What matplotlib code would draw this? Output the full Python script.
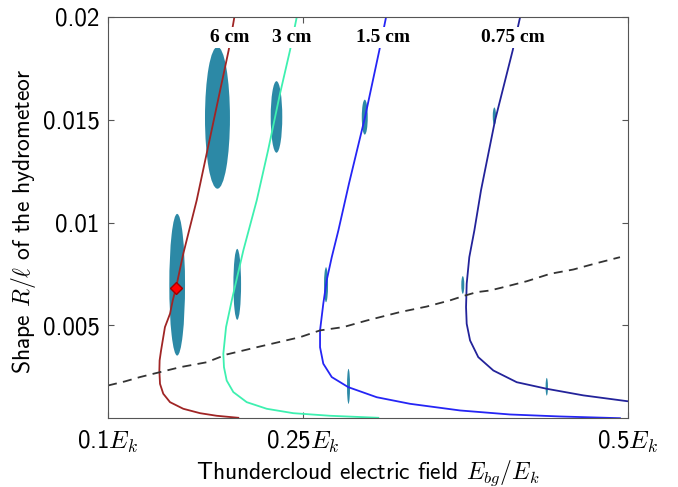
import matplotlib
matplotlib.use("Agg")
import matplotlib.pyplot as plt
from matplotlib.patches import Ellipse

plt.rcParams['mathtext.fontset'] = 'cm'

# threshold curves, one per hydrometeor length (x = E_bg/E_k, y = R/l)
x_6cm = [0.2002, 0.1836, 0.1708, 0.1579, 0.1477, 0.1425, 0.1400, 0.1395, 0.1397,
         0.1408, 0.1438, 0.1477, 0.1498, 0.1523, 0.1579, 0.1682, 0.1792, 0.1928,
         0.1972, 0.1985]
y_6cm = [0.00051, 0.000608, 0.000734, 0.000948, 0.00127, 0.00168, 0.00216, 0.00281,
         0.0033, 0.00378, 0.00492, 0.00557, 0.00622, 0.00683, 0.00849, 0.01108,
         0.01434, 0.01838, 0.0200, 0.0206]

x_3cm = [0.3079, 0.2708, 0.2425, 0.2221, 0.2067, 0.1964, 0.1913, 0.1892, 0.1887,
         0.1908, 0.1952, 0.2041, 0.2144, 0.2231, 0.2323, 0.2400, 0.2452, 0.2465]
y_3cm = [0.00051, 0.000608, 0.000734, 0.000948, 0.00127, 0.00176, 0.00232, 0.00297,
         0.00362, 0.00492, 0.00622, 0.00865, 0.01108, 0.01351, 0.01627, 0.01838,
         0.0200, 0.0206]

x_15cm = [0.4938, 0.4477, 0.4092, 0.3708, 0.3323, 0.3067, 0.2848, 0.2721, 0.2656,
          0.2631, 0.2631, 0.2656, 0.2682, 0.2721, 0.2772, 0.2854, 0.2977, 0.3087,
          0.3138, 0.3154]
y_15cm = [0.00049, 0.000574, 0.000671, 0.000866, 0.00119, 0.00151, 0.0020, 0.00249,
          0.00314, 0.00394, 0.00476, 0.00606, 0.00719, 0.00832, 0.00962, 0.01191,
          0.01513, 0.01838, 0.01997, 0.0206]

x_075cm = [0.5092, 0.4990, 0.4656, 0.4375, 0.4144, 0.3964, 0.3848, 0.3785, 0.3759,
           0.3754, 0.3759, 0.3779, 0.3818, 0.3869, 0.3977, 0.4113, 0.4169, 0.4185]
y_075cm = [0.00125, 0.00132, 0.0016, 0.00192, 0.00224, 0.00281, 0.00346, 0.00427,
           0.00508, 0.00589, 0.00703, 0.00832, 0.00962, 0.01157, 0.01497, 0.01838,
           0.01997, 0.0206]

# dashed boundary
x_dash = [0.1, 0.1131, 0.1246, 0.14, 0.1554, 0.1759, 0.1913, 0.2144, 0.2477, 0.2631,
          0.281, 0.299, 0.3246, 0.3452, 0.3631, 0.3733, 0.3836, 0.3938, 0.4067, 0.4221,
          0.44, 0.4579, 0.4759, 0.4938]
y_dash = [0.00208, 0.00228, 0.00249, 0.00273, 0.00297, 0.00321, 0.00359, 0.00394,
          0.00443, 0.00476, 0.00492, 0.00524, 0.00565, 0.00592, 0.00622, 0.00643,
          0.00662, 0.0067, 0.0069, 0.00715, 0.00751, 0.00772, 0.00803, 0.00832]

# uncertainty ellipses
ell_x = [0.1842, 0.1532, 0.2296, 0.1994, 0.2975, 0.2677, 0.2850, 0.3972, 0.3729, 0.4375]
ell_y = [0.0151, 0.00698, 0.01514, 0.0070, 0.01513, 0.00698, 0.00204, 0.01517, 0.00697, 0.00202]
ell_w = [0.0192, 0.0121, 0.0089, 0.0059, 0.0046, 0.0031, 0.0023, 0.0025, 0.0023, 0.0018]
ell_h = [0.0069, 0.00689, 0.00348, 0.00345, 0.0017, 0.0017, 0.0017, 0.00086, 0.00086, 0.00086]

# red marker
pt_x, pt_y = 0.1523, 0.00683

labels = ['6 cm', '3 cm', '1.5 cm', '0.75 cm']
label_x = [0.1936, 0.2413, 0.3115, 0.4115]
label_y = 0.0190

fig = plt.figure(figsize=(6.78, 4.87), dpi=100)
ax = fig.add_axes([0.1593, 0.1417, 0.767, 0.8234])

for i in range(len(ell_x)):
    ax.add_patch(Ellipse((ell_x[i], ell_y[i]), ell_w[i], ell_h[i],
                         facecolor='#2c89a6', edgecolor='none', zorder=1))

ax.plot(x_6cm, y_6cm, color='#a02525', lw=1.3, zorder=2)
ax.plot(x_3cm, y_3cm, color='#3ef0b0', lw=1.3, zorder=2)
ax.plot(x_15cm, y_15cm, color='#2525f5', lw=1.3, zorder=2)
ax.plot(x_075cm, y_075cm, color='#23239a', lw=1.3, zorder=2)
ax.plot(x_dash, y_dash, color='#333333', lw=1.3, dashes=(5, 3.5), zorder=2)
ax.plot(pt_x, pt_y, 'D', color='red', markeredgecolor='#a00000', markersize=6, zorder=3)

for i in range(len(labels)):
    ax.text(label_x[i], label_y, labels[i], family='Liberation Serif', weight='bold',
            fontsize=14, ha='center', va='center', zorder=4,
            bbox=dict(facecolor='white', edgecolor='none', pad=1.5))

ax.set_xlim(0.1, 0.5)
ax.set_ylim(0.0005, 0.02)
ax.set_xticks([0.1, 0.25, 0.5])
ax.set_xticklabels([r'0.1$E_k$', r'0.25$E_k$', r'0.5$E_k$'])
ax.set_yticks([0.005, 0.01, 0.015, 0.02])
ax.set_yticklabels(['0.005', '0.01', '0.015', '0.02'])
for t in ax.get_xticklabels() + ax.get_yticklabels():
    t.set_fontfamily('cmss10')
ax.tick_params(direction='in', top=True, right=True, length=4, color='#555555',
               labelsize=18)
ax.tick_params(axis='x', pad=8)
ax.tick_params(axis='y', pad=6)
for s in ax.spines.values():
    s.set_color('#555555')

ax.set_xlabel(r'Thundercloud electric field $E_{bg}/E_k$', fontsize=17,
              fontfamily='cmss10', labelpad=2)
ax.set_ylabel(r'Shape $R/\ell$ of the hydrometeor', fontsize=17,
              fontfamily='cmss10')
ax.yaxis.set_label_coords(-0.135, 0.49)

fig.savefig('out.png', dpi=100)
